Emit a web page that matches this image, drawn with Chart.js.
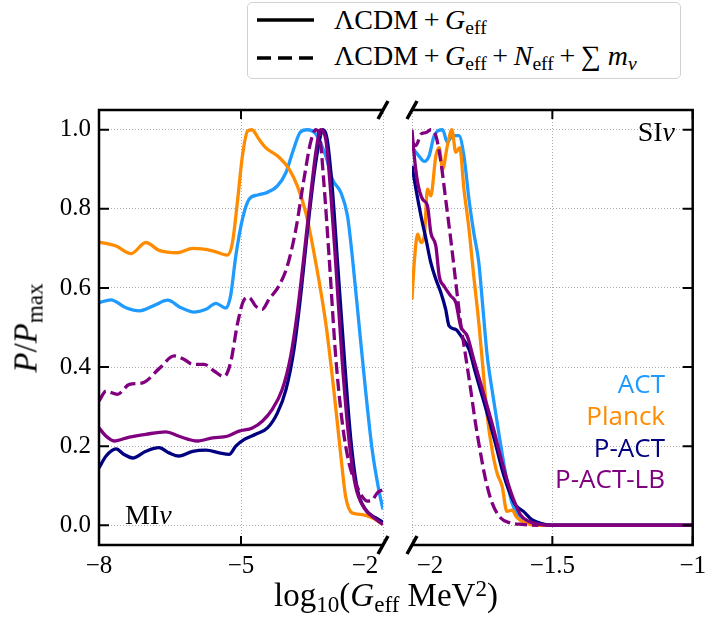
<!DOCTYPE html>
<html>
<head>
<meta charset="utf-8">
<script src="https://cdn.jsdelivr.net/npm/chart.js@4.4.0/dist/chart.umd.min.js"></script>
<style>
  body { margin: 0; background: #fff; }
  #wrap { position: relative; width: 712px; height: 624px; font-family: "Liberation Serif", serif; color: #000; }
  #wrap canvas { position: absolute; left: 0; top: 0; }
  .sb { font-size: 0.7em; position: relative; top: 0.25em; }
  .sp { font-size: 0.7em; position: relative; top: -0.45em; }
  .op { margin: 0 0.2em; }
  .legend { position: absolute; left: 247px; top: 2px; width: 432px; height: 75px;
            border: 1.5px solid #d2d2d2; border-radius: 5px; background: #fff; }
  .legend svg { position: absolute; left: 8px; }
  .row { position: absolute; left: 86px; font-size: 28px; line-height: 1; white-space: nowrap; }
  .tag { position: absolute; font-size: 28px; line-height: 1; white-space: nowrap; }
  .name { position: absolute; right: 47px; font-family: "Open Sans", sans-serif; font-size: 26px; line-height: 1; }
  .axtitle { position: absolute; font-size: 33px; line-height: 1; white-space: nowrap; }
</style>
</head>
<body>
<div id="wrap">
  <canvas id="mi" width="712" height="624"></canvas>
  <canvas id="si" width="712" height="624"></canvas>

  <div class="legend">
    <svg width="60" height="8" style="top:13px"><line x1="1" y1="4" x2="58" y2="4" stroke="#000" stroke-width="3.5"/></svg>
    <svg width="60" height="8" style="top:51px"><line x1="1" y1="4" x2="58" y2="4" stroke="#000" stroke-width="3.5" stroke-dasharray="14 7"/></svg>
    <div class="row" style="top:3px">ΛCDM<span class="op">+</span><i>G</i><span class="sb">eff</span></div>
    <div class="row" style="top:39px">ΛCDM<span class="op">+</span><i>G</i><span class="sb">eff</span><span class="op">+</span><i>N</i><span class="sb">eff</span><span class="op">+</span>∑ <i>m</i><span class="sb"><i>ν</i></span></div>
  </div>

  <div class="tag" style="left:125px; top:501px">MI<i>ν</i></div>
  <div class="tag" style="right:37px; top:118px">SI<i>ν</i></div>

  <div class="name" style="top:370px; color:#1f9bff">ACT</div>
  <div class="name" style="top:402px; color:#ff8c00">Planck</div>
  <div class="name" style="top:434px; color:#000080">P-ACT</div>
  <div class="name" style="top:465px; color:#800080">P-ACT-LB</div>

  <div class="axtitle" style="left:386px; top:579px; transform:translateX(-50%)">log<span class="sb">10</span>(<i>G</i><span class="sb">eff</span> MeV<span class="sp">2</span>)</div>
  <div class="axtitle" style="left:26px; top:328px; transform:translate(-50%,-50%) rotate(-90deg)"><i>P</i>/<i>P</i><span class="sb">max</span></div>
</div>

<script>
// posterior curves, [log10 Geff, P/Pmax]
// MI branch (left panel)
const actMI = [[-8,0.563],[-7.75,0.57],[-7.43,0.55],[-7.15,0.542],[-6.83,0.556],[-6.55,0.569],[-6.27,0.55],[-5.99,0.539],[-5.74,0.546],[-5.53,0.561],[-5.32,0.549],[-5.22,0.58],[-5.11,0.681],[-4.97,0.774],[-4.83,0.824],[-4.65,0.835],[-4.48,0.84],[-4.23,0.858],[-4.05,0.892],[-3.91,0.943],[-3.74,0.995],[-3.6,1.0],[-3.42,0.989],[-3.21,0.934],[-3.07,0.875],[-2.89,0.841],[-2.75,0.782],[-2.65,0.681],[-2.51,0.512],[-2.37,0.343],[-2.23,0.192],[-2.09,0.09],[-2.0,0.04]];
const planckMI = [[-8,0.716],[-7.64,0.706],[-7.32,0.687],[-7.01,0.715],[-6.73,0.695],[-6.34,0.689],[-6.02,0.7],[-5.6,0.694],[-5.29,0.683],[-5.18,0.715],[-5.07,0.824],[-4.97,0.934],[-4.86,0.997],[-4.77,1.0],[-4.62,0.976],[-4.48,0.955],[-4.19,0.93],[-3.98,0.9],[-3.81,0.858],[-3.63,0.79],[-3.42,0.664],[-3.21,0.512],[-3.04,0.343],[-2.89,0.175],[-2.79,0.073],[-2.65,0.031],[-2.44,0.027],[-2.23,0.019],[-2.0,0.002]];
const pactMI = [[-8,0.145],[-7.85,0.175],[-7.64,0.193],[-7.47,0.179],[-7.29,0.17],[-7.01,0.187],[-6.73,0.196],[-6.52,0.183],[-6.31,0.175],[-6.02,0.187],[-5.74,0.19],[-5.46,0.183],[-5.25,0.179],[-5.11,0.2],[-4.93,0.217],[-4.69,0.23],[-4.44,0.246],[-4.23,0.284],[-4.05,0.343],[-3.88,0.445],[-3.74,0.58],[-3.6,0.74],[-3.46,0.884],[-3.35,0.968],[-3.27,1.0],[-3.18,0.976],[-3.07,0.85],[-2.96,0.664],[-2.82,0.428],[-2.68,0.217],[-2.54,0.09],[-2.37,0.04],[-2.16,0.019],[-2.0,0.008]];
const pactlbMI = [[-8,0.246],[-7.85,0.225],[-7.68,0.213],[-7.36,0.223],[-7.01,0.23],[-6.59,0.236],[-6.31,0.225],[-5.92,0.213],[-5.6,0.221],[-5.29,0.225],[-5.04,0.238],[-4.76,0.246],[-4.55,0.263],[-4.34,0.293],[-4.13,0.343],[-3.95,0.428],[-3.81,0.538],[-3.67,0.681],[-3.53,0.833],[-3.41,0.951],[-3.32,1.0],[-3.21,0.976],[-3.11,0.85],[-3.0,0.664],[-2.86,0.411],[-2.72,0.217],[-2.58,0.099],[-2.4,0.044],[-2.19,0.019],[-2.0,0.002]];
const pactlbExtMI = [[-8,0.314],[-7.85,0.339],[-7.61,0.331],[-7.36,0.356],[-7.08,0.36],[-6.73,0.396],[-6.41,0.428],[-6.2,0.419],[-6.02,0.407],[-5.78,0.407],[-5.57,0.39],[-5.36,0.376],[-5.22,0.411],[-5.07,0.512],[-4.93,0.571],[-4.83,0.576],[-4.69,0.554],[-4.55,0.546],[-4.41,0.571],[-4.2,0.605],[-4.02,0.656],[-3.84,0.749],[-3.67,0.875],[-3.53,0.968],[-3.42,1.0],[-3.34,0.985],[-3.25,0.867],[-3.14,0.681],[-3.0,0.428],[-2.86,0.259],[-2.72,0.158],[-2.58,0.107],[-2.44,0.073],[-2.33,0.061],[-2.23,0.063],[-2.12,0.082],[-2.0,0.09]];

// SI branch (right panel)
const actSI = [[-2.0,0.955],[-1.98,0.938],[-1.956,0.92],[-1.939,0.934],[-1.921,0.985],[-1.891,1.0],[-1.874,0.968],[-1.856,0.985],[-1.833,0.985],[-1.815,0.934],[-1.797,0.824],[-1.78,0.74],[-1.762,0.664],[-1.748,0.554],[-1.732,0.428],[-1.715,0.343],[-1.691,0.234],[-1.667,0.132],[-1.644,0.057],[-1.62,0.023],[-1.585,0.006],[-1.55,0.0],[-1.0,0.0]];
const planckSI = [[-2.0,0.571],[-1.992,0.664],[-1.98,0.736],[-1.968,0.715],[-1.956,0.732],[-1.945,0.85],[-1.933,0.833],[-1.915,0.934],[-1.903,0.955],[-1.891,0.9],[-1.874,0.96],[-1.858,1.0],[-1.844,0.943],[-1.83,0.955],[-1.815,0.85],[-1.797,0.749],[-1.78,0.63],[-1.762,0.512],[-1.748,0.403],[-1.732,0.276],[-1.715,0.192],[-1.697,0.132],[-1.679,0.099],[-1.662,0.035],[-1.644,0.038],[-1.626,0.019],[-1.597,0.006],[-1.561,0.0],[-1.0,0.0]];
const pactSI = [[-2.0,0.909],[-1.986,0.85],[-1.968,0.782],[-1.95,0.723],[-1.933,0.664],[-1.915,0.622],[-1.897,0.588],[-1.88,0.546],[-1.868,0.504],[-1.844,0.495],[-1.821,0.474],[-1.797,0.445],[-1.774,0.386],[-1.75,0.327],[-1.726,0.268],[-1.703,0.208],[-1.679,0.141],[-1.656,0.09],[-1.632,0.052],[-1.603,0.035],[-1.573,0.014],[-1.538,0.004],[-1.502,0.0],[-1.0,0.0]];
const pactlbSI = [[-2.0,1.0],[-1.992,0.934],[-1.98,0.867],[-1.962,0.824],[-1.945,0.808],[-1.933,0.74],[-1.915,0.706],[-1.903,0.63],[-1.886,0.605],[-1.862,0.58],[-1.844,0.563],[-1.827,0.504],[-1.803,0.478],[-1.78,0.419],[-1.756,0.36],[-1.732,0.301],[-1.709,0.242],[-1.685,0.175],[-1.662,0.116],[-1.638,0.065],[-1.614,0.027],[-1.585,0.01],[-1.55,0.003],[-1.502,0.0],[-1.0,0.0]];
const pactlbExtSI = [[-2.0,0.968],[-1.986,0.96],[-1.968,0.989],[-1.95,0.993],[-1.933,1.0],[-1.915,0.985],[-1.897,0.918],[-1.88,0.824],[-1.862,0.723],[-1.844,0.614],[-1.827,0.512],[-1.809,0.428],[-1.791,0.343],[-1.774,0.259],[-1.756,0.183],[-1.738,0.116],[-1.715,0.057],[-1.685,0.019],[-1.65,0.006],[-1.608,0.002],[-1.55,0.0]];

const miTicks = [-8, -5, -2];
const siTicks = [-2, -1.5, -1];
const yTicks = [0, 0.2, 0.4, 0.6, 0.8, 1.0];

const colors = { act: '#1f9bff', planck: '#ff8c00', pact: '#000080', pactlb: '#800080' };
const serif = '"Liberation Serif", serif';

const fmt = v => (v < 0 ? '\u2212' : '') + Math.abs(v);

// build line datasets for one panel
function series(act, planck, pact, pactlbExt, pactlb) {
  const line = (pts, color, order, dash) => ({
    data: pts.map(p => ({ x: p[0], y: p[1] })),
    borderColor: color,
    borderWidth: 3.3,
    borderDash: dash || [],
    order: order
  });
  return [
    line(act, colors.act, 5),
    line(planck, colors.planck, 4),
    line(pact, colors.pact, 3),
    line(pactlbExt, colors.pactlb, 2, [12, 5]),
    line(pactlb, colors.pactlb, 1)
  ];
}

// spines, inward ticks and broken-axis marks
const frame = {
  id: 'frame',
  afterDraw(chart, args, opts) {
    const { ctx, chartArea: a, scales: { x, y } } = chart;
    const sx = opts.side === 'left' ? a.left : a.right;
    const dir = opts.side === 'left' ? 1 : -1;
    ctx.save();
    ctx.strokeStyle = '#000';
    ctx.lineWidth = 2.5;
    ctx.beginPath();
    ctx.moveTo(a.left, a.top); ctx.lineTo(a.right, a.top);
    ctx.moveTo(a.left, a.bottom); ctx.lineTo(a.right, a.bottom);
    ctx.moveTo(sx, a.top - 1.25); ctx.lineTo(sx, a.bottom + 1.25);
    ctx.stroke();

    ctx.lineWidth = 2;
    ctx.beginPath();
    x.ticks.forEach(t => {
      if (t.value === opts.breakAt) return;
      const px = x.getPixelForValue(t.value);
      ctx.moveTo(px, a.bottom); ctx.lineTo(px, a.bottom - 9);
      ctx.moveTo(px, a.top); ctx.lineTo(px, a.top + 9);
    });
    y.ticks.forEach(t => {
      const py = y.getPixelForValue(t.value);
      ctx.moveTo(sx, py); ctx.lineTo(sx + dir * 10, py);
    });
    ctx.stroke();

    const bx = x.getPixelForValue(opts.breakAt);
    ctx.lineWidth = 3.5;
    ctx.beginPath();
    [a.top, a.bottom].forEach(by => {
      ctx.moveTo(bx - 5, by + 9); ctx.lineTo(bx + 5, by - 9);
    });
    ctx.stroke();

    // label of the break tick sits off the tick
    ctx.fillStyle = '#000';
    ctx.font = '25px ' + serif;
    ctx.textAlign = 'center';
    ctx.textBaseline = 'middle';
    ctx.fillText(fmt(opts.breakAt), bx + opts.labelShift, a.bottom + 6 + 15);
    ctx.restore();
  }
};

function panel(id, datasets, range, xticks, side, breakLabelShift) {
  return new Chart(document.getElementById(id), {
    type: 'line',
    data: { datasets: datasets },
    options: {
      responsive: false,
      animation: false,
      devicePixelRatio: 1,
      layout: {
        padding: side === 'left'
          ? { left: 0, right: 329, top: 110, bottom: 0 }
          : { left: 412, right: 16, top: 110, bottom: 0 }
      },
      elements: {
        point: { radius: 0 },
        line: { cubicInterpolationMode: 'monotone', fill: false }
      },
      plugins: {
        legend: { display: false },
        tooltip: { enabled: false },
        frame: { side: side, breakAt: -2, labelShift: breakLabelShift }
      },
      scales: {
        x: {
          type: 'linear',
          min: range[0],
          max: range[1],
          afterBuildTicks: s => { s.ticks = xticks.map(v => ({ value: v })); },
          afterFit: s => { s.height = 79; },
          grid: { color: 'rgba(0,0,0,0.32)', lineWidth: 1, drawTicks: false },
          border: { display: false, dash: [1, 2] },
          ticks: {
            padding: 6,
            color: '#000',
            font: { family: serif, size: 25 },
            maxRotation: 0,
            callback: v => (v === -2 ? '' : fmt(v))
          }
        },
        y: {
          min: -0.05,
          max: 1.05,
          afterBuildTicks: s => { s.ticks = yTicks.map(v => ({ value: v })); },
          afterFit: s => { s.width = side === 'left' ? 99 : 0; },
          grid: { color: 'rgba(0,0,0,0.32)', lineWidth: 1, drawTicks: false },
          border: { display: false, dash: [1, 2] },
          ticks: {
            display: side === 'left',
            padding: 8,
            color: '#000',
            font: { family: serif, size: 25 },
            callback: v => v.toFixed(1)
          }
        }
      }
    },
    plugins: [frame]
  });
}

panel('mi', series(actMI, planckMI, pactMI, pactlbExtMI, pactlbMI), [-8, -2], miTicks, 'left', -18);
panel('si', series(actSI, planckSI, pactSI, pactlbExtSI, pactlbSI), [-2, -1], siTicks, 'right', 18);
</script>
</body>
</html>
